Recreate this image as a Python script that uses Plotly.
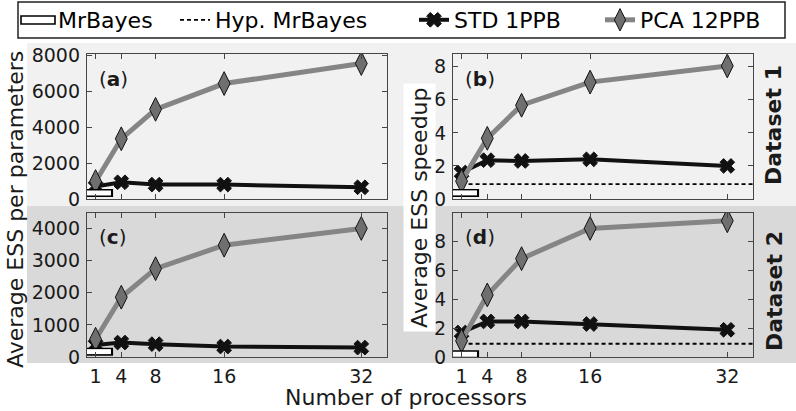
import plotly.graph_objects as go

# ---------------- data ----------------
procs = [1, 4, 8, 16, 32]
mrbayes_x = [1]
hyp_x = [1, 35]

# Dataset 1
ess_std_d1 = [700, 935, 805, 805, 655]
ess_pca_d1 = [975, 3365, 5010, 6450, 7570]
ess_mrbayes_d1 = [336]
spd_std_d1 = [1.6, 2.35, 2.3, 2.4, 2.0]
spd_pca_d1 = [1.08, 3.67, 5.67, 7.07, 8.05]
spd_mrbayes_d1 = [0.37]
spd_hyp_d1 = [0.9, 0.9]

# Dataset 2
ess_std_d2 = [375, 450, 400, 325, 292]
ess_pca_d2 = [553, 1860, 2747, 3478, 4000]
ess_mrbayes_d2 = [167]
spd_std_d2 = [1.7, 2.47, 2.47, 2.29, 1.89]
spd_pca_d2 = [1.12, 4.31, 6.83, 8.93, 9.46]
spd_mrbayes_d2 = [0.19]
spd_hyp_d2 = [0.92, 0.92]

x_ticks = [1, 4, 8, 16, 32]
x_tick_labels = ["1", "4", "8", "16", "32"]
ess_ticks_d1 = [0, 2000, 4000, 6000, 8000]
ess_ticks_d2 = [0, 1000, 2000, 3000, 4000]
spd_ticks = [0, 2, 4, 6, 8]

FONT = "DejaVu Sans"
W, H = 796, 411
PCA_LINE = "#858585"
PCA_FILL = "#6f6f6f"
FRAME = "#454545"

fig = go.Figure()


def px_x(p):
    return p / W


def px_y(p):
    return 1 - p / H


panels = [
    ("x", "y", ess_std_d1, ess_pca_d1, ess_mrbayes_d1, None),
    ("x2", "y2", spd_std_d1, spd_pca_d1, spd_mrbayes_d1, spd_hyp_d1),
    ("x3", "y3", ess_std_d2, ess_pca_d2, ess_mrbayes_d2, None),
    ("x4", "y4", spd_std_d2, spd_pca_d2, spd_mrbayes_d2, spd_hyp_d2),
]

for i, (xa, ya, std, pca, mrb, hyp) in enumerate(panels):
    if hyp is not None:
        fig.add_trace(go.Scatter(
            x=hyp_x, y=hyp, xaxis=xa, yaxis=ya, mode="lines",
            line=dict(color="black", width=1.8, dash="4px,3px"),
            name="Hyp. MrBayes", showlegend=(i == 1), legend="legend2"))
    fig.add_trace(go.Scatter(
        x=procs, y=std, xaxis=xa, yaxis=ya, mode="lines+markers",
        line=dict(color="#111111", width=4),
        marker=dict(symbol="x", size=13, color="#111111",
                    line=dict(color="#111111", width=1)),
        name="STD 1PPB", showlegend=(i == 0), legend="legend3"))
    fig.add_trace(go.Scatter(
        x=procs, y=pca, xaxis=xa, yaxis=ya, mode="lines+markers",
        line=dict(color=PCA_LINE, width=5),
        marker=dict(symbol="diamond-tall", size=17, color=PCA_FILL,
                    line=dict(color="#111111", width=1)),
        name="PCA 12PPB", showlegend=(i == 0), legend="legend4"))
    # MrBayes: white rectangle with black outline
    fig.add_trace(go.Scatter(
        x=mrbayes_x, y=mrb, xaxis=xa, yaxis=ya, mode="markers",
        marker=dict(symbol="line-ew", size=25, color="black",
                    line=dict(color="black", width=8)),
        showlegend=False, hoverinfo="skip"))
    fig.add_trace(go.Scatter(
        x=mrbayes_x, y=mrb, xaxis=xa, yaxis=ya, mode="markers",
        marker=dict(symbol="line-ew", size=22, color="white",
                    line=dict(color="white", width=5)),
        name="MrBayes", showlegend=False, hoverinfo="skip"))

# dummy legend entry for MrBayes (symbol drawn as a shape)
fig.add_trace(go.Scatter(
    x=[None], y=[None], mode="lines",
    line=dict(color="rgba(0,0,0,0)", width=1),
    name="MrBayes", showlegend=True, legend="legend"))

# ---------------- axes ----------------
xl = [px_x(87), px_x(387)]
xr = [px_x(453), px_x(753)]
yt = [px_y(199), px_y(54)]
yb = [px_y(357), px_y(213)]

common = dict(showline=True, linecolor=FRAME, linewidth=1.3, mirror="ticks",
              ticks="inside", ticklen=5, tickwidth=1.2, tickcolor=FRAME,
              showgrid=False, zeroline=False, automargin=False,
              tickfont=dict(family=FONT, size=19, color="#1a1a1a"))

xcommon = dict(common, range=[0, 35], tickvals=x_ticks, ticktext=x_tick_labels)

fig.update_layout(
    xaxis=dict(xcommon, domain=xl, anchor="y", showticklabels=False),
    yaxis=dict(common, domain=yt, anchor="x", range=[0, 8100],
               tickvals=ess_ticks_d1, ticklabelstandoff=2),
    xaxis2=dict(xcommon, domain=xr, anchor="y2", showticklabels=False),
    yaxis2=dict(common, domain=yt, anchor="x2", range=[0, 8.77],
                tickvals=spd_ticks, ticklabelstandoff=2),
    xaxis3=dict(xcommon, domain=xl, anchor="y3", ticklabelstandoff=2),
    yaxis3=dict(common, domain=yb, anchor="x3", range=[0, 4480],
                tickvals=ess_ticks_d2, ticklabelstandoff=2),
    xaxis4=dict(xcommon, domain=xr, anchor="y4", ticklabelstandoff=2),
    yaxis4=dict(common, domain=yb, anchor="x4", range=[0, 10],
                tickvals=spd_ticks, ticklabelstandoff=2),
)

# ---------------- background bands & legend frame ----------------
shapes = [
    dict(type="rect", xref="paper", yref="paper", layer="below",
         x0=px_x(27), x1=1, y0=px_y(206), y1=px_y(43),
         fillcolor="#f1f1f1", line=dict(width=0)),
    dict(type="rect", xref="paper", yref="paper", layer="below",
         x0=px_x(27), x1=1, y0=px_y(363), y1=px_y(206),
         fillcolor="#d9d9d9", line=dict(width=0)),
    dict(type="rect", xref="paper", yref="paper", layer="below",
         x0=px_x(18), x1=px_x(785), y0=px_y(38), y1=px_y(2),
         fillcolor="white", line=dict(color="#222222", width=1.5)),
    dict(type="rect", xref="paper", yref="paper", layer="above",
         x0=px_x(21), x1=px_x(55), y0=px_y(24), y1=px_y(16),
         fillcolor="white", line=dict(color="black", width=1.6)),
]
fig.update_layout(shapes=shapes)

# ---------------- legends ----------------
leg_font = dict(family=FONT, size=22, color="black")
leg_common = dict(orientation="h", xanchor="left", yanchor="middle",
                  y=px_y(20), bgcolor="rgba(0,0,0,0)", borderwidth=0,
                  font=leg_font, itemsizing="trace")
fig.update_layout(
    legend=dict(leg_common, x=px_x(18)),
    legend2=dict(leg_common, x=px_x(175)),
    legend3=dict(leg_common, x=px_x(414)),
    legend4=dict(leg_common, x=px_x(600)),
)

# ---------------- annotations ----------------
ann = []
for xa, ya, lab in [("x", "y", "a"), ("x2", "y2", "b"),
                    ("x3", "y3", "c"), ("x4", "y4", "d")]:
    ann.append(dict(text="(<b>%s</b>)" % lab, xref=xa + " domain",
                    yref=ya + " domain", x=0.033, y=0.83,
                    xanchor="left", yanchor="middle", showarrow=False,
                    font=dict(family=FONT, size=20, color="#1a1a1a")))

title_font = dict(family=FONT, size=22, color="#1a1a1a")
ann += [
    dict(text="Average ESS per parameters", xref="paper", yref="paper",
         x=px_x(15), y=px_y(210), textangle=-90, showarrow=False,
         xanchor="center", yanchor="middle", font=title_font),
    dict(text="Average ESS speedup", xref="paper", yref="paper",
         x=px_x(419), y=px_y(208), textangle=-90, showarrow=False,
         xanchor="center", yanchor="middle", font=title_font,
         bgcolor="white", borderpad=3),
    dict(text="Number of processors", xref="paper", yref="paper",
         x=px_x(406), y=px_y(397), showarrow=False,
         xanchor="center", yanchor="middle", font=title_font),
    dict(text="<b>Dataset 1</b>", xref="paper", yref="paper",
         x=px_x(774), y=px_y(125), textangle=-90, showarrow=False,
         xanchor="center", yanchor="middle",
         font=dict(family=FONT, size=22, color="#1a1a1a")),
    dict(text="<b>Dataset 2</b>", xref="paper", yref="paper",
         x=px_x(774), y=px_y(291), textangle=-90, showarrow=False,
         xanchor="center", yanchor="middle",
         font=dict(family=FONT, size=22, color="#1a1a1a")),
]

fig.update_layout(
    annotations=ann,
    width=W, height=H,
    margin=dict(l=0, r=0, t=0, b=0, pad=0, autoexpand=False),
    paper_bgcolor="white",
    plot_bgcolor="rgba(0,0,0,0)",
    font=dict(family=FONT),
)

fig.write_html(
    "out.html",
    config={"displayModeBar": False},
    post_script="document.body.style.margin='0px';document.body.style.overflow='hidden';",
)
